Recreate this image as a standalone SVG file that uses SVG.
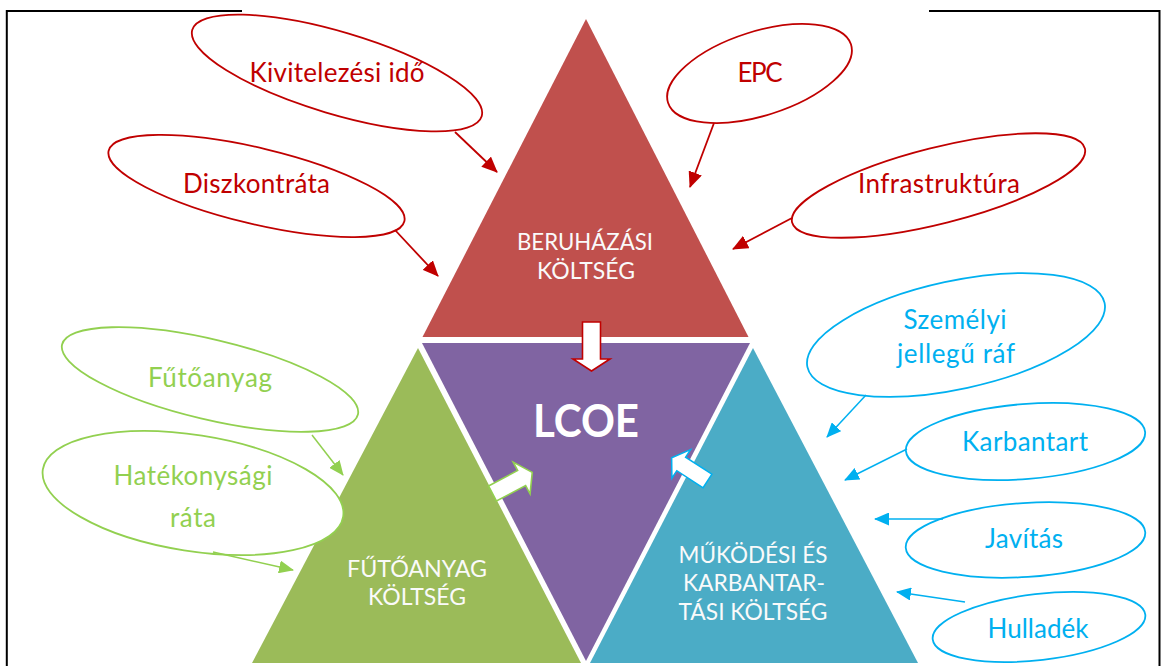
<svg xmlns="http://www.w3.org/2000/svg" width="1161" height="666" viewBox="0 0 1161 666">
  <defs>
    <style>
      .frame { fill: none; stroke: #000; stroke-width: 2; }
      .tri-label { font-family: Lato, "Liberation Sans", sans-serif; font-size: 22.5px; fill: #FAFAFA; text-anchor: middle; }
      .lcoe { font-family: Lato, "Liberation Sans", sans-serif; font-size: 45px; font-weight: bold; fill: #FFFFFF; text-anchor: middle; }
      .oval { fill: #FFFFFF; stroke-width: 1.8; }
      .lbl { font-family: Lato, "Liberation Sans", sans-serif; font-size: 26px; text-anchor: middle; }
      .red { stroke: #C00000; }
      .green { stroke: #92D050; }
      .blue { stroke: #00B0F0; }
      .t-red { fill: #C00000; }
      .t-green { fill: #92D050; }
      .t-blue { fill: #00B0F0; }
      .link { fill: none; }
      .link.red { stroke-width: 1.8; marker-end: url(#head-red); }
      .link.green { stroke-width: 1.5; marker-end: url(#head-green); }
      .link.blue { stroke-width: 1.5; marker-end: url(#head-blue); }
      .flow { fill: #FFFFFF; stroke-width: 1.6; stroke-linejoin: miter; }
    </style>
    <marker id="head-red" viewBox="0 0 16 14" refX="15" refY="7" markerWidth="16" markerHeight="14" orient="auto" markerUnits="userSpaceOnUse">
      <path d="M0,0 L16,7 L0,14 z" fill="#C00000"/>
    </marker>
    <marker id="head-green" viewBox="0 0 15 13" refX="14" refY="6.5" markerWidth="15" markerHeight="13" orient="auto" markerUnits="userSpaceOnUse">
      <path d="M0,0 L15,6.5 L0,13 z" fill="#92D050"/>
    </marker>
    <marker id="head-blue" viewBox="0 0 15 13" refX="14" refY="6.5" markerWidth="15" markerHeight="13" orient="auto" markerUnits="userSpaceOnUse">
      <path d="M0,0 L15,6.5 L0,13 z" fill="#00B0F0"/>
    </marker>
    <!-- block arrow pointing along +x, origin at the back of the shaft -->
    <path id="block-arrow" d="M0,-8.5 L33,-8.5 L33,-18 L45,0 L33,18 L33,8.5 L0,8.5 z"/>
  </defs>

  <rect x="0" y="0" width="1161" height="666" fill="#FFFFFF"/>

  <!-- page frame -->
  <g id="frame">
    <path class="frame" d="M6.8,666 V11 H242"/>
    <path class="frame" d="M929,11 H1159.5 V666"/>
  </g>

  <!-- cost triangles -->
  <g id="tri-beruhazasi">
    <polygon points="586,19 422.5,337 748.5,337" fill="#C0504D"/>
    <text class="tri-label" x="585" y="250" textLength="136" lengthAdjust="spacingAndGlyphs">BERUHÁZÁSI</text>
    <text class="tri-label" x="586" y="279" textLength="98" lengthAdjust="spacingAndGlyphs">KÖLTSÉG</text>
  </g>
  <g id="tri-lcoe">
    <polygon points="422,343 750,343 586,661" fill="#8064A2"/>
    <text class="lcoe" x="586" y="437" textLength="106" lengthAdjust="spacingAndGlyphs">LCOE</text>
  </g>
  <g id="tri-futoanyag">
    <polygon points="418,348 252,663 581,663" fill="#9BBB59"/>
    <text class="tri-label" x="417" y="577" textLength="140" lengthAdjust="spacingAndGlyphs">FŰTŐANYAG</text>
    <text class="tri-label" x="417" y="605" textLength="98" lengthAdjust="spacingAndGlyphs">KÖLTSÉG</text>
  </g>
  <g id="tri-mukodesi">
    <polygon points="753,348 590,663 918,663" fill="#4BACC6"/>
    <text class="tri-label" x="753" y="563" textLength="149" lengthAdjust="spacingAndGlyphs">MŰKÖDÉSI ÉS</text>
    <text class="tri-label" x="754" y="591" textLength="142" lengthAdjust="spacingAndGlyphs">KARBANTAR-</text>
    <text class="tri-label" x="753" y="620" textLength="149" lengthAdjust="spacingAndGlyphs">TÁSI KÖLTSÉG</text>
  </g>

  <!-- investment factors -->
  <g id="n-kivitelezes">
    <ellipse class="oval red" cx="337" cy="73" rx="151" ry="41" transform="rotate(16.6 337 73)"/>
    <text class="lbl t-red" x="337" y="82" textLength="175">Kivitelezési idő</text>
  </g>
  <g id="n-diszkontrata">
    <ellipse class="oval red" cx="256.5" cy="186" rx="152" ry="38" transform="rotate(13.4 256.5 186)"/>
    <text class="lbl t-red" x="256.5" y="193" textLength="147">Diszkontráta</text>
  </g>
  <g id="n-epc">
    <ellipse class="oval red" cx="759.5" cy="73.5" rx="96" ry="42" transform="rotate(-17.7 759.5 73.5)"/>
    <text class="lbl t-red" x="760" y="82" textLength="45">EPC</text>
  </g>
  <g id="n-infrastruktura">
    <ellipse class="oval red" cx="938.5" cy="185.5" rx="151" ry="38" transform="rotate(-14.2 938.5 185.5)"/>
    <text class="lbl t-red" x="939" y="193" textLength="162">Infrastruktúra</text>
  </g>

  <!-- fuel factors -->
  <g id="n-futoanyag">
    <ellipse class="oval green" cx="210" cy="379.5" rx="152" ry="40" transform="rotate(13.3 210 379.5)"/>
    <text class="lbl t-green" x="210" y="387" textLength="124">Fűtőanyag</text>
  </g>
  <g id="n-hatekonysag">
    <ellipse class="oval green" cx="193" cy="493" rx="152" ry="58" transform="rotate(8.9 193 493)"/>
    <text class="lbl t-green" x="193" y="485" textLength="159">Hatékonysági</text>
    <text class="lbl t-green" x="193" y="527" textLength="46">ráta</text>
  </g>

  <!-- operation and maintenance factors -->
  <g id="n-szemelyi">
    <ellipse class="oval blue" cx="956" cy="335" rx="152" ry="54" transform="rotate(-12.2 956 335)"/>
    <text class="lbl t-blue" x="955" y="329" textLength="103">Személyi</text>
    <text class="lbl t-blue" x="956" y="363" textLength="118">jellegű ráf</text>
  </g>
  <g id="n-karbantart">
    <ellipse class="oval blue" cx="1025.5" cy="441.5" rx="120" ry="37.5" transform="rotate(-4.5 1025.5 441.5)"/>
    <text class="lbl t-blue" x="1025" y="451" textLength="126">Karbantart</text>
  </g>
  <g id="n-javitas">
    <ellipse class="oval blue" cx="1025.5" cy="540" rx="120" ry="37" transform="rotate(-3.7 1025.5 540)"/>
    <text class="lbl t-blue" x="1024" y="548" textLength="78">Javítás</text>
  </g>
  <g id="n-hulladek">
    <ellipse class="oval blue" cx="1039" cy="627" rx="107" ry="33" transform="rotate(-6.6 1039 627)"/>
    <text class="lbl t-blue" x="1038" y="638" textLength="101">Hulladék</text>
  </g>

  <!-- connectors -->
  <g id="connectors">
    <line class="link red" x1="455" y1="132" x2="497" y2="172"/>
    <line class="link red" x1="395" y1="230" x2="438" y2="276"/>
    <line class="link red" x1="714" y1="123" x2="690" y2="187"/>
    <line class="link red" x1="792" y1="218" x2="733" y2="249"/>
    <line class="link green" x1="312" y1="435" x2="343" y2="475"/>
    <line class="link green" x1="213" y1="552" x2="293" y2="570"/>
    <line class="link blue" x1="866" y1="395" x2="827" y2="437"/>
    <line class="link blue" x1="907" y1="449" x2="845" y2="480"/>
    <line class="link blue" x1="943" y1="519" x2="875" y2="519"/>
    <line class="link blue" x1="965" y1="602" x2="897" y2="592"/>

    <!-- cost components flowing into LCOE -->
    <polygon class="flow red" points="582.5,322 600.5,322 600.5,359 610,359 591.5,371 573,359 582.5,359"/>
    <use href="#block-arrow" class="flow green" transform="translate(492.5 493.5) rotate(-28)"/>
    <use href="#block-arrow" class="flow blue" transform="translate(707.5 481) rotate(-147) scale(0.95)"/>
  </g>
</svg>
